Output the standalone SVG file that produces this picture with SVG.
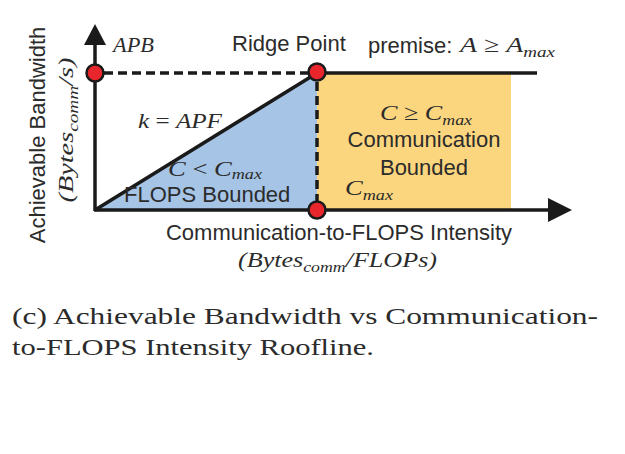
<svg xmlns="http://www.w3.org/2000/svg" width="625" height="454" viewBox="0 0 625 454">
<style>
.s{font-family:"Liberation Sans",Arial,sans-serif;font-size:22px;fill:#2b2b2b}
.m{font-family:"Liberation Serif","Times New Roman",serif;font-style:italic;font-size:22px;fill:#2b2b2b}
.n{font-style:normal}
.sub{font-size:15px}
.cap{font-family:"Liberation Serif","Times New Roman",serif;font-size:24px;fill:#2b2b2b}
.ax{stroke:#1a1a1a;stroke-width:3.5;fill:none}
.dash{stroke:#1a1a1a;stroke-width:3.5;stroke-dasharray:9 5;fill:none}
.pt{fill:#e8262b;stroke:#1a1a1a;stroke-width:2.5}
</style>
<rect width="625" height="454" fill="#ffffff"/>
<g id="regions">
<polygon id="flops-region" points="95,210 317,73 317,210" fill="#a6c4e5"/>
<rect id="comm-region" x="317" y="73" width="194" height="137" fill="#fcd67f"/>
</g>
<g id="connectors">
<line class="ax" x1="95" y1="211" x2="95" y2="44"/>
<polygon points="95,24 84,45 106,45" fill="#1a1a1a"/>
<line class="ax" x1="94" y1="210" x2="550" y2="210"/>
<polygon points="572,210 548,198 548,222" fill="#1a1a1a"/>
<line class="dash" x1="104" y1="73" x2="308" y2="73"/>
<line class="ax" x1="317" y1="73" x2="537" y2="73" stroke-width="3"/>
<line class="dash" x1="317" y1="82" x2="317" y2="202"/>
<line class="ax" x1="95" y1="210" x2="317" y2="73" stroke-width="3"/>
</g>
<g id="apb-point"><circle class="pt" cx="95" cy="73" r="8.5"/></g>
<g id="ridge-point"><circle class="pt" cx="317" cy="72" r="8.5"/></g>
<g id="cmax-point"><circle class="pt" cx="317" cy="210" r="8.5"/></g>
<g id="labels">
<text class="m" x="113" y="52" textLength="41" lengthAdjust="spacingAndGlyphs">APB</text>
<text class="s" x="232" y="51">Ridge Point</text>
<text class="s" x="368" y="53">premise:</text>
<text class="m" x="460" y="52" textLength="95" lengthAdjust="spacingAndGlyphs">A<tspan class="n"> ≥ </tspan>A<tspan class="sub" dy="5">max</tspan></text>
<text class="m" x="138" y="128" textLength="84" lengthAdjust="spacingAndGlyphs">k<tspan class="n"> = </tspan>APF</text>
<text class="m" x="168" y="176" textLength="94" lengthAdjust="spacingAndGlyphs">C<tspan class="n"> &lt; </tspan>C<tspan class="sub" dy="3">max</tspan></text>
<text class="s" x="124" y="202">FLOPS Bounded</text>
<text class="m" x="380" y="120" textLength="92" lengthAdjust="spacingAndGlyphs">C<tspan class="n"> ≥ </tspan>C<tspan class="sub" dy="5">max</tspan></text>
<text class="s" x="424" y="147" text-anchor="middle">Communication</text>
<text class="s" x="424" y="175" text-anchor="middle">Bounded</text>
<text class="m" x="345" y="195" textLength="48" lengthAdjust="spacingAndGlyphs">C<tspan class="sub" dy="5">max</tspan></text>
<text class="s" x="339" y="240" text-anchor="middle">Communication-to-FLOPS Intensity</text>
<text class="m" x="238" y="267" textLength="199" lengthAdjust="spacingAndGlyphs">(Bytes<tspan class="sub" dy="5">comm</tspan><tspan dy="-5">/FLOPs)</tspan></text>
<text class="s" x="45" y="135" text-anchor="middle" transform="rotate(-90 45 135)">Achievable Bandwidth</text>
<text class="m" transform="rotate(-90 73 130)" x="73" y="130" text-anchor="middle" textLength="145" lengthAdjust="spacingAndGlyphs">(Bytes<tspan class="sub" dy="5">comm</tspan><tspan dy="-5">/s)</tspan></text>
</g>
<g id="caption">
<text class="cap" x="12" y="324" textLength="586" lengthAdjust="spacingAndGlyphs">(c) Achievable Bandwidth vs Communication-</text>
<text class="cap" x="12" y="355" textLength="362" lengthAdjust="spacingAndGlyphs">to-FLOPS Intensity Roofline.</text>
</g>
</svg>
